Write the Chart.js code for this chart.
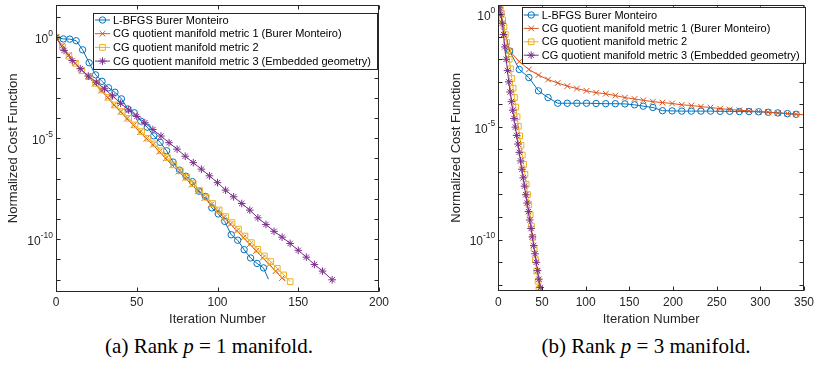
<!DOCTYPE html>
<html><head><meta charset="utf-8">
<script src="https://cdn.jsdelivr.net/npm/chart.js@4.4.1/dist/chart.umd.min.js"></script>
<style>
html,body{margin:0;padding:0;background:#fff;}
body{width:819px;height:370px;position:relative;overflow:hidden;}
#wa{position:absolute;left:0;top:0;width:410px;height:327px;}
#wb{position:absolute;left:410px;top:0;width:409px;height:327px;}
.cap{position:absolute;top:336px;font-family:"Liberation Serif",serif;font-size:21px;line-height:1;color:#000;white-space:nowrap;transform:translateX(-50%);}
</style></head><body>
<div id="wa"><canvas id="ca"></canvas></div>
<div id="wb"><canvas id="cb"></canvas></div>
<div class="cap" style="left:209px">(a) Rank <i>p</i> = 1 manifold.</div>
<div class="cap" style="left:646px">(b) Rank <i>p</i> = 3 manifold.</div>
<script>
// ---------- data (y stored as log10 of the normalized cost) ----------
const seriesLabels = ['L-BFGS Burer Monteiro','CG quotient manifold metric 1 (Burer Monteiro)','CG quotient manifold metric 2','CG quotient manifold metric 3 (Embedded geometry)'];
const xTicksA = [0,50,100,150,200];
const xTicksB = [0,50,100,150,200,250,300,350];
const yLabelExps = [0,-5,-10];

// (a) Rank p = 1
const aBlueIter = [0,4.5,8.5,12.5,16.5,20.5,24.5,28.5,32.5,36.5,40.5,44.5,48.5,52.5,56.5,60.5,64.5,68.5,72.5,76.5,80.5,84.5,88.5,92.5,96.5,100.5,104.5,108.5,112.5,116.5,120.5,124.5,128.5,131.5];
const aBlueLog  = [0,-0.08,-0.09,-0.17,-0.62,-1.26,-1.86,-2.18,-2.50,-2.72,-3.05,-3.55,-3.74,-4.15,-4.45,-4.88,-5.20,-5.62,-6.18,-6.58,-6.88,-7.15,-7.62,-7.88,-8.45,-8.75,-9.12,-9.78,-10.05,-10.52,-10.93,-11.20,-11.42,-11.98];
const aOrangeIter = [0,4,8,12,16,20,24,28,32,36,40,44,48,52,56,60,64,68,72,76,80,84,88,92,96,100,104,108,112,116,120,124,128,132,136,140,142];
const aOrangeLog  = [0,-0.40,-0.88,-1.28,-1.64,-1.98,-2.30,-2.64,-2.99,-3.36,-3.69,-4.03,-4.36,-4.70,-5.02,-5.32,-5.66,-6.00,-6.34,-6.65,-6.97,-7.30,-7.63,-7.96,-8.28,-8.60,-8.93,-9.25,-9.58,-9.92,-10.25,-10.58,-10.92,-11.25,-11.58,-11.92,-12.05];
const aYellowIter = [0,4,8,12,16,20.5,24.5,28.5,32.5,36.5,41,45,49,53,57,61,65,69,73,77,81,85,89,93,97,101,105,109,113,117,121,125,129,133,137,141,145];
const aYellowLog  = [0,-0.47,-0.93,-1.29,-1.65,-1.95,-2.28,-2.61,-2.97,-3.35,-3.68,-4.01,-4.34,-4.67,-5.00,-5.28,-5.62,-5.96,-6.32,-6.62,-6.93,-7.25,-7.59,-7.92,-8.23,-8.55,-8.88,-9.18,-9.50,-9.84,-10.17,-10.50,-10.83,-11.11,-11.44,-11.77,-12.10];
const aPurpleIter = [0,5,10,15,20,25,30,35,40,45,50,55,60,65,70,75,80,85,90,95,100,105,110,115,120,125,130,135,140,145,150,155,160,165,171];
const aPurpleLog  = [0,-0.65,-1.15,-1.55,-1.92,-2.22,-2.55,-2.90,-3.27,-3.60,-3.92,-4.23,-4.57,-4.89,-5.22,-5.54,-5.89,-6.21,-6.53,-6.86,-7.20,-7.57,-7.90,-8.23,-8.56,-8.94,-9.27,-9.61,-9.90,-10.21,-10.55,-10.89,-11.25,-11.58,-12.01];

// (b) Rank p = 3
const bBlueIter = [0,13,24,35,46,57,68,79,90,101,112,123,134,145,156,166,177,188,199,210,221,232,243,254,265,276,287,298,309,320,331,341];
const bBlueLog  = [0.40,-1.63,-2.45,-2.81,-3.40,-3.70,-3.95,-3.95,-3.95,-3.95,-3.96,-3.97,-3.97,-3.98,-4.02,-4.08,-4.14,-4.28,-4.29,-4.30,-4.30,-4.30,-4.30,-4.31,-4.31,-4.32,-4.32,-4.33,-4.35,-4.38,-4.41,-4.44];
const bOrangeIter = [0,13,24,35,46,57,68,79,90,101,112,123,134,145,156,166,177,188,199,210,221,232,243,254,265,276,287,298,309,320,331,341,350];
const bOrangeLog  = [0.40,-1.63,-2.10,-2.45,-2.70,-2.90,-3.05,-3.19,-3.30,-3.40,-3.48,-3.53,-3.61,-3.70,-3.76,-3.82,-3.88,-3.92,-3.96,-4.02,-4.05,-4.10,-4.14,-4.19,-4.23,-4.26,-4.29,-4.32,-4.35,-4.38,-4.41,-4.44,-4.46];
const bYellowIter = [0,2,3.5,5,6.5,8,9.5,11,12.5,14,15.5,17,18.5,20,21.5,23,24.5,26,27.5,29,30.5,32,33.5,35,36.5,38,39.5,41,42.5,44,45.5,46.5];
const bYellowLog  = [0.40,0.30,0.05,-0.25,-0.55,-0.90,-1.25,-1.62,-2.00,-2.42,-2.85,-3.28,-3.70,-4.12,-4.55,-4.97,-5.40,-5.82,-6.25,-6.67,-7.10,-7.55,-8.00,-8.45,-8.90,-9.40,-9.90,-10.40,-10.90,-11.40,-11.85,-12.20];
const bPurpleIter = [0,1.5,3,4.5,6,7.5,9,10.5,12,13.5,15,16.5,18,19.5,21,22.5,24,25.5,27,28.5,30,31.5,33,34.5,36,37.5,39,40.5,42,43.5,45,46.5,48];
const bPurpleLog  = [0.40,0.28,0.0,-0.40,-0.90,-1.45,-2.0,-2.5,-3.0,-3.45,-3.88,-4.26,-4.63,-5.01,-5.38,-5.76,-6.13,-6.51,-6.88,-7.26,-7.63,-8.01,-8.38,-8.76,-9.13,-9.51,-9.88,-10.26,-10.63,-11.01,-11.38,-11.76,-12.13];

// ---------- styling ----------
const AX = '#262626';
const FONT = "'Liberation Sans', Arial, sans-serif";
const seriesStyle = [
  {color:'#0072BD', pointStyle:'circle',   radius:3.2},
  {color:'#D95319', pointStyle:'crossRot', radius:4},
  {color:'#EDB120', pointStyle:'rect',     radius:4},
  {color:'#7E2F8E', pointStyle:'star',     radius:3.8}
];

function pts(iters, logs){ return iters.map((x,i)=>({x:x, y:Math.pow(10, logs[i])})); }

function makeDatasets(list){
  return list.map((s,i)=>{
    const st = seriesStyle[i];
    const n = s.iter.length;
    return {
      label: seriesLabels[i],
      data: pts(s.iter, s.log),
      borderColor: st.color,
      borderWidth: 1,
      pointStyle: st.pointStyle,
      pointRadius: s.iter.map((_,k)=> (s.noEndMarker && k===n-1) ? 0 : st.radius),
      pointBorderColor: st.color,
      pointBackgroundColor: 'rgba(0,0,0,0)',
      pointBorderWidth: 1,
      tension: 0,
      order: 3-i
    };
  });
}

function matlabAxes(cfg){
  return {
    id:'matlabAxes'+cfg.id,
    afterDraw(chart){
      const ctx = chart.ctx;
      const ca = chart.chartArea;
      const xs = chart.scales.x, ys = chart.scales.y;
      const L = Math.round(ca.left)+0.5, R = Math.round(ca.right)-0.5, T = Math.round(ca.top)+0.5, B = Math.round(ca.bottom)-0.5;
      ctx.save();
      ctx.strokeStyle = AX; ctx.lineWidth = 1;
      ctx.strokeRect(L, T, R-L, B-T);
      const tl = 4;
      ctx.beginPath();
      cfg.xTicks.forEach(v=>{
        const px = Math.round(xs.getPixelForValue(v))+0.5;
        ctx.moveTo(px,B); ctx.lineTo(px,B-tl);
        ctx.moveTo(px,T); ctx.lineTo(px,T+tl);
      });
      const lo = Math.ceil(Math.log10(ys.min)-1e-9), hi = Math.floor(Math.log10(ys.max)+1e-9);
      for(let e=lo;e<=hi;e++){
        const py = Math.round(ys.getPixelForValue(Math.pow(10,e)))+0.5;
        ctx.moveTo(L,py); ctx.lineTo(L+tl,py);
        ctx.moveTo(R,py); ctx.lineTo(R-tl,py);
      }
      ctx.stroke();
      // y tick labels 10^e
      ctx.fillStyle = AX;
      yLabelExps.forEach(e=>{
        const py = ys.getPixelForValue(Math.pow(10,e));
        const ex = String(e);
        ctx.font = '8.5px '+FONT;
        const w2 = ctx.measureText(ex).width;
        ctx.font = '12px '+FONT;
        const w1 = ctx.measureText('10').width;
        const xe = ca.left - 3;
        ctx.textBaseline = 'middle'; ctx.textAlign = 'left';
        ctx.fillText('10', xe - w2 - w1, py + 2.5);
        ctx.font = '8.5px '+FONT;
        ctx.fillText(ex, xe - w2, py - 3.5);
      });
      // legend
      const lg = cfg.legend;
      ctx.fillStyle = '#fff';
      ctx.fillRect(lg.x, lg.y, lg.w, lg.h);
      ctx.strokeStyle = AX;
      ctx.strokeRect(Math.round(lg.x)+0.5, Math.round(lg.y)+0.5, Math.round(lg.w), Math.round(lg.h));
      chart.data.datasets.forEach((ds,i)=>{
        const st = seriesStyle[i];
        const cy = lg.y + lg.row0 + i*lg.dy;
        ctx.strokeStyle = st.color; ctx.lineWidth = 1;
        ctx.beginPath(); ctx.moveTo(lg.x+lg.l0, cy); ctx.lineTo(lg.x+lg.l1, cy); ctx.stroke();
        if (Chart.helpers && Chart.helpers.drawPoint){
          ctx.fillStyle = 'rgba(0,0,0,0)';
          Chart.helpers.drawPoint(ctx, {pointStyle:st.pointStyle, radius:st.radius, rotation:0, borderWidth:1}, lg.x+(lg.l0+lg.l1)/2, cy);
        }
        ctx.fillStyle = '#000';
        ctx.font = '11px '+FONT;
        ctx.textBaseline = 'middle'; ctx.textAlign = 'left';
        ctx.fillText(ds.label, lg.x+lg.tx, cy+0.5);
      });
      ctx.restore();
    }
  };
}

function makeChart(canvasId, cfg){
  return new Chart(document.getElementById(canvasId), {
    type:'line',
    data:{datasets: makeDatasets(cfg.series)},
    options:{
      responsive:true, maintainAspectRatio:false, animation:false,
      layout:{padding:{left:0, top:cfg.padTop, right:cfg.padRight, bottom:0}},
      plugins:{legend:{display:false}, tooltip:{enabled:false}},
      scales:{
        x:{type:'linear', min:cfg.xMin, max:cfg.xMax,
           grid:{display:false, drawTicks:false}, border:{display:false},
           ticks:{stepSize:50, autoSkip:false, maxRotation:0, padding:cfg.xTickPad, color:AX, font:{family:FONT, size:12}},
           title:{display:true, text:'Iteration Number', color:AX, font:{family:FONT, size:13}, padding:{top:0,bottom:0}},
           afterFit(s){ s.height = cfg.xHeight; }
        },
        y:{type:'logarithmic', min:cfg.yMin, max:cfg.yMax,
           grid:{display:false, drawTicks:false}, border:{display:false},
           ticks:{display:false},
           title:{display:true, text:'Normalized Cost Function', color:AX, font:{family:FONT, size:13}, padding:{top:cfg.yTitlePad, bottom:0}},
           afterFit(s){ s.width = cfg.yWidth; }
        }
      }
    },
    plugins:[matlabAxes(cfg)]
  });
}

makeChart('ca', {
  id:'a',
  series:[
    {iter:aBlueIter, log:aBlueLog, noEndMarker:true},
    {iter:aOrangeIter, log:aOrangeLog, noEndMarker:true},
    {iter:aYellowIter, log:aYellowLog},
    {iter:aPurpleIter, log:aPurpleLog}
  ],
  xMin:0, xMax:200, xTicks:xTicksA,
  yMin:Math.pow(10,-12.6), yMax:Math.pow(10,1.6),
  padTop:5, padRight:31, xHeight:35.3, yWidth:56, xTickPad:4, yTitlePad:5.5,
  legend:{x:93, y:12.5, w:284, h:56, row0:7.5, dy:13.7, l0:2, l1:17, tx:20}
});
makeChart('cb', {
  id:'b',
  series:[
    {iter:bBlueIter, log:bBlueLog},
    {iter:bOrangeIter, log:bOrangeLog, noEndMarker:true},
    {iter:bYellowIter, log:bYellowLog},
    {iter:bPurpleIter, log:bPurpleLog}
  ],
  xMin:0, xMax:350, xTicks:xTicksB,
  yMin:Math.pow(10,-12.27), yMax:Math.pow(10,0.41),
  padTop:1.7, padRight:9, xHeight:36.3, yWidth:88.3, xTickPad:5, yTitlePad:38.9,
  legend:{x:111.7, y:6.7, w:283.3, h:56, row0:8.3, dy:13.4, l0:2, l1:17, tx:20}
});
</script>
</body></html>
